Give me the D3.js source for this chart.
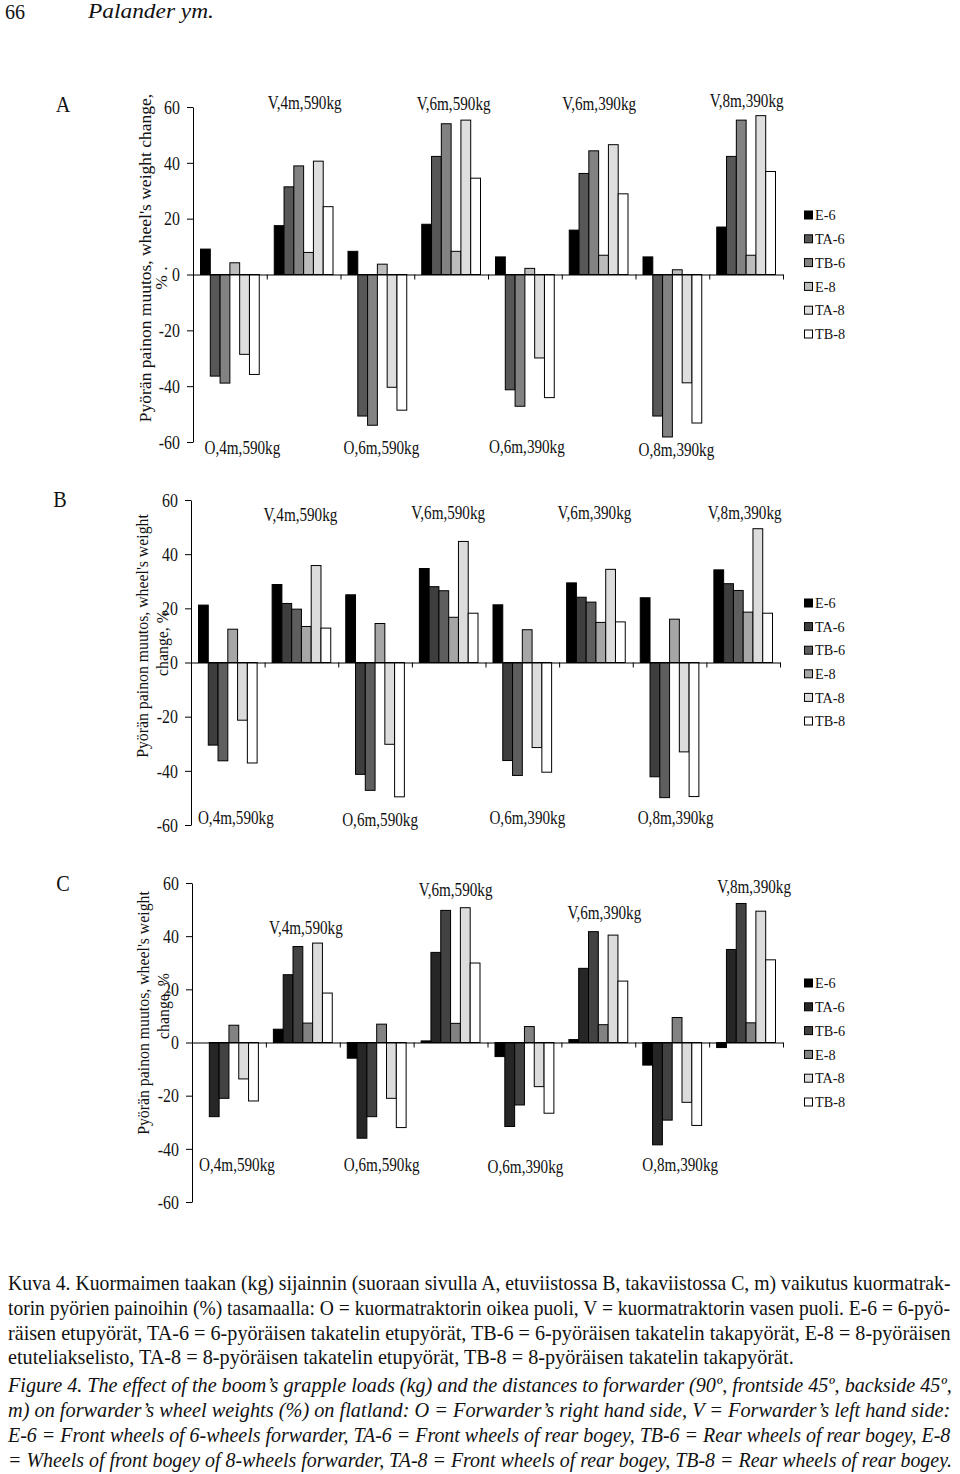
<!DOCTYPE html>
<html>
<head>
<meta charset="utf-8">
<script src="https://cdn.jsdelivr.net/npm/d3@7"></script>
<style>
  html, body { margin: 0; padding: 0; background: #fff; }
  svg { display: block; }
</style>
</head>
<body>
<div id="chart"></div>
<script>
// ---------------- DATA ----------------
const categories = ["O,4m,590kg", "V,4m,590kg", "O,6m,590kg", "V,6m,590kg",
                    "O,6m,390kg", "V,6m,390kg", "O,8m,390kg", "V,8m,390kg"];
const seriesNames = ["E-6", "TA-6", "TB-6", "E-8", "TA-8", "TB-8"];
const yTicks = [-60, -40, -20, 0, 20, 40, 60];

// rows = categories, columns = series (E-6, TA-6, TB-6, E-8, TA-8, TB-8)
const valuesA = [
  [9.1, -36.4, -38.9, 4.2, -28.6, -35.8],
  [17.5, 31.4, 38.9, 7.9, 40.6, 24.3],
  [8.3, -50.7, -54.0, 3.7, -40.4, -48.6],
  [18.0, 42.3, 54.0, 8.3, 55.3, 34.5],
  [6.3, -41.3, -47.2, 2.2, -29.9, -44.1],
  [15.9, 36.2, 44.3, 6.9, 46.5, 28.9],
  [6.3, -50.7, -58.2, 1.7, -38.8, -53.2],
  [17.0, 42.3, 55.3, 6.9, 56.9, 36.9]
];
const valuesB = [
  [21.2, -30.5, -36.3, 12.3, -21.3, -37.1],
  [28.8, 21.8, 19.7, 13.3, 35.8, 12.7],
  [25.0, -41.3, -47.2, 14.4, -30.2, -49.6],
  [34.7, 28.0, 26.5, 16.7, 44.7, 18.2],
  [21.3, -36.2, -41.7, 12.1, -31.4, -40.5],
  [29.4, 24.1, 22.3, 14.8, 34.4, 15.0],
  [23.9, -42.2, -49.9, 16.0, -33.0, -49.5],
  [34.2, 29.1, 26.6, 18.6, 49.4, 18.2]
];
const valuesC = [
  [0.0, -27.9, -21.0, 6.5, -13.7, -22.0],
  [5.0, 25.5, 36.1, 7.3, 37.4, 18.6],
  [-5.9, -36.0, -27.9, 6.9, -21.0, -32.0],
  [0.6, 33.9, 49.7, 7.2, 50.7, 29.9],
  [-5.3, -31.6, -23.5, 6.0, -16.6, -26.6],
  [1.1, 27.9, 41.7, 6.7, 40.4, 23.1],
  [-8.5, -38.5, -29.2, 9.4, -22.5, -31.2],
  [-1.9, 35.0, 52.3, 7.4, 49.4, 31.1]
];

const captionFi = [
  "Kuva 4. Kuormaimen taakan (kg) sijainnin (suoraan sivulla A, etuviistossa B, takaviistossa C, m) vaikutus kuormatrak-",
  "torin pyörien painoihin (%) tasamaalla: O = kuormatraktorin oikea puoli, V = kuormatraktorin vasen puoli. E-6 = 6-pyö-",
  "räisen etupyörät, TA-6 = 6-pyöräisen takatelin etupyörät, TB-6 = 6-pyöräisen takatelin takapyörät, E-8 = 8-pyöräisen",
  "etuteliakselisto, TA-8 = 8-pyöräisen takatelin etupyörät, TB-8 = 8-pyöräisen takatelin takapyörät."
];
const captionEn = [
  "Figure 4. The effect of the boom\u2019s grapple loads (kg) and the distances to forwarder (90º, frontside 45º, backside 45º,",
  "m) on forwarder\u2019s wheel weights (%) on flatland: O = Forwarder\u2019s right hand side, V = Forwarder\u2019s left hand side:",
  "E-6 = Front wheels of 6-wheels forwarder, TA-6 = Front wheels of rear bogey, TB-6 = Rear wheels of rear bogey, E-8",
  "= Wheels of front bogey of 8-wheels forwarder, TA-8 = Front wheels of rear bogey, TB-8 = Rear wheels of rear bogey."
];

// ---------------- LAYOUT ----------------
const W = 960, H = 1474;
const FONT = "'Liberation Serif','Times New Roman',Times,serif";

const panels = [
  {
    letter: "A", values: valuesA,
    colors: ["#000000", "#575757", "#828282", "#bcbcbc", "#dedede", "#ffffff"],
    x0: 193, x1: 783, yTop: 107, yBot: 442,
    letterPos: [63, 105],
    titleLines: ["Pyörän painon muutos, wheel's weight change,", "% ."],
    titlePos: [[145, 258, 17.5], [161, 278, 17.5]],
    legendY: 215, legendStep: 23.8,
    vDx: [1, 2.5, 0.5, 0.5], vY: [103, 104, 104, 101],
    oDx: [12.5, 4, 2, 4], oY: [448, 448, 447, 450]
  },
  {
    letter: "B", values: valuesB,
    colors: ["#000000", "#3e3e3e", "#5e5e5e", "#a6a6a6", "#dcdcdc", "#ffffff"],
    x0: 191, x1: 780, yTop: 500, yBot: 825,
    letterPos: [60, 500],
    titleLines: ["Pyörän painon muutos, wheel's weight", "change, %"],
    titlePos: [[142, 636, 15.8], [162, 643, 15.8]],
    legendY: 603, legendStep: 23.6,
    vDx: [-1, -0.5, -1.5, 1.5], vY: [515, 513, 513, 513],
    oDx: [8, 5, 5, 6], oY: [818, 820, 818, 818]
  },
  {
    letter: "C", values: valuesC,
    colors: ["#000000", "#262626", "#424242", "#828282", "#dcdcdc", "#ffffff"],
    x0: 192, x1: 783, yTop: 883, yBot: 1202,
    letterPos: [63, 884],
    titleLines: ["Pyörän painon muutos, wheel's weight", "change, %"],
    titlePos: [[143, 1013, 15.8], [163, 1006, 15.8]],
    legendY: 983, legendStep: 23.8,
    vDx: [3, 5, 6, 8], vY: [928, 890, 913, 887],
    oDx: [8, 5, 1, 8], oY: [1165, 1165, 1167, 1165]
  }
];

const svg = d3.select("#chart").append("svg")
  .attr("width", W).attr("height", H)
  .attr("viewBox", `0 0 ${W} ${H}`);
svg.append("rect").attr("width", W).attr("height", H).attr("fill", "#fff");

function addText(parent, x, y, s, o = {}) {
  const g = parent.append("g")
    .attr("transform", `translate(${x},${y}) scale(${o.sx || 1},1)`);
  const t = g.append("text")
    .attr("font-family", FONT)
    .attr("font-size", o.size || 16)
    .attr("text-anchor", o.anchor || "middle")
    .attr("dominant-baseline", o.baseline || "central")
    .attr("fill", "#111")
    .text(s);
  if (o.italic) t.attr("font-style", "italic");
  return t;
}

// text fitted to an exact width by horizontal scaling (measured)
function fitText(parent, x, y, s, width, o = {}) {
  const g = parent.append("g");
  const t = g.append("text")
    .attr("font-family", FONT)
    .attr("font-size", o.size || 16)
    .attr("fill", "#111")
    .text(s);
  if (o.italic) t.attr("font-style", "italic");
  const L = t.node().getComputedTextLength() || width;
  g.attr("transform", `translate(${x},${y}) scale(${width / L},1)`);
  return t;
}

// header
addText(svg, 5, 19, "66", { size: 20, anchor: "start", baseline: "auto" });
fitText(svg, 88, 18, "Palander ym.", 126, { size: 22, italic: true });

panels.forEach(p => {
  const g = svg.append("g");
  const y = d3.scaleLinear().domain([-60, 60]).range([p.yBot, p.yTop]);
  const x = d3.scaleBand().domain(categories).range([p.x0, p.x1]).paddingInner(0).paddingOuter(0);
  const cw = x.bandwidth();
  const xs = d3.scaleBand().domain(seriesNames).range([7.5, cw - 7.5]).paddingInner(0);
  const xb = d3.scaleLinear().domain([0, categories.length]).range([p.x0, p.x1]);
  const color = d3.scaleOrdinal().domain(seriesNames).range(p.colors);

  // bars
  const rows = [];
  categories.forEach((c, i) => seriesNames.forEach((s, j) =>
    rows.push({ cat: c, s: s, v: p.values[i][j] })));
  g.append("g").selectAll("rect").data(rows).join("rect")
    .attr("x", d => x(d.cat) + xs(d.s))
    .attr("y", d => y(Math.max(0, d.v)))
    .attr("width", xs.bandwidth())
    .attr("height", d => Math.abs(y(d.v) - y(0)))
    .attr("fill", d => color(d.s))
    .attr("stroke", "#000")
    .attr("stroke-width", 1);

  // y axis
  const ya = g.append("g").attr("transform", `translate(${p.x0},0)`)
    .call(d3.axisLeft(y).tickValues(yTicks).tickSize(6).tickSizeOuter(0).tickFormat(d => String(d)));
  ya.attr("font-family", FONT).attr("font-size", 18.5);
  ya.select(".domain").attr("stroke", "#000");
  ya.selectAll(".tick line").attr("stroke", "#000");
  ya.selectAll(".tick text")
    .attr("fill", "#111")
    .attr("x", -13 / 0.86).attr("dy", "0.34em")
    .attr("transform", "scale(0.86,1)");

  // x axis at zero with ticks between categories
  const xa = g.append("g").attr("transform", `translate(0,${y(0)})`)
    .call(d3.axisBottom(xb).tickValues(d3.range(1, categories.length + 1)).tickSize(5).tickSizeOuter(0).tickFormat(""));
  xa.select(".domain").attr("stroke", "#000");
  xa.selectAll(".tick line").attr("stroke", "#000");

  // category labels
  let vi = 0, oi = 0;
  categories.forEach(c => {
    const cx = x(c) + cw / 2;
    if (c.startsWith("V")) {
      addText(g, cx + p.vDx[vi], p.vY[vi], c, { size: 18.5, sx: 0.82 });
      vi++;
    } else {
      addText(g, cx + p.oDx[oi], p.oY[oi], c, { size: 18.5, sx: 0.82 });
      oi++;
    }
  });

  // panel letter
  addText(g, p.letterPos[0], p.letterPos[1], p.letter, { size: 23, sx: 0.88 });

  // axis title (rotated)
  p.titleLines.forEach((t, i) => {
    const [tx, ty, ts] = p.titlePos[i];
    g.append("text")
      .attr("transform", `translate(${tx},${ty}) rotate(-90)`)
      .attr("font-family", FONT).attr("font-size", ts)
      .attr("text-anchor", "middle").attr("dominant-baseline", "central")
      .attr("fill", "#111").text(t);
  });

  // legend
  const lg = g.append("g").attr("transform", `translate(804,${p.legendY})`);
  seriesNames.forEach((s, i) => {
    const row = lg.append("g").attr("transform", `translate(0,${i * p.legendStep})`);
    row.append("rect").attr("x", 0.5).attr("y", -4).attr("width", 8).attr("height", 8)
      .attr("fill", color(s)).attr("stroke", "#000").attr("stroke-width", 1);
    addText(row, 11, 0, s, { size: 15, anchor: "start", sx: 0.95 });
  });
});

// caption
const capX = 8;
const fiY = [1290, 1315, 1340, 1364];
const enY = [1392, 1417, 1442, 1467];
const fiLen = [943, 943, 943, 786];
const enLen = [944, 943, 943, 944];
captionFi.forEach((line, i) => fitText(svg, capX, fiY[i], line, fiLen[i], { size: 21 }));
captionEn.forEach((line, i) => fitText(svg, capX, enY[i], line, enLen[i], { size: 21, italic: true }));
</script>
</body>
</html>
